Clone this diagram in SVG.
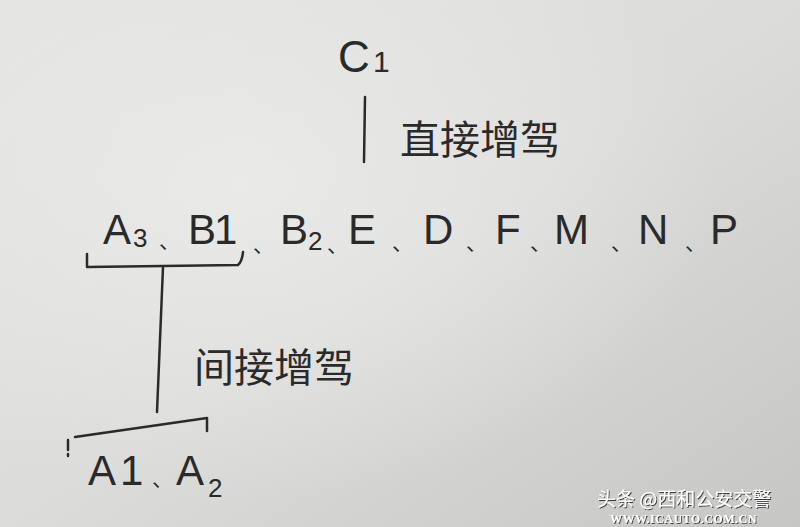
<svg xmlns="http://www.w3.org/2000/svg" width="800" height="527" viewBox="0 0 800 527">
  <defs>
    <linearGradient id="bg" x1="0" y1="0" x2="1" y2="1">
      <stop offset="0" stop-color="#e4e4e2"/>
      <stop offset="0.5" stop-color="#dcdcda"/>
      <stop offset="1" stop-color="#c6c6c4"/>
    </linearGradient>
    <radialGradient id="glow" cx="0.3" cy="0.35" r="0.6">
      <stop offset="0" stop-color="#ececea" stop-opacity="0.8"/>
      <stop offset="1" stop-color="#ececea" stop-opacity="0"/>
    </radialGradient>
    <filter id="shadow" x="-10%" y="-30%" width="120%" height="160%">
      <feDropShadow dx="1" dy="1" stdDeviation="0.6" flood-color="#000" flood-opacity="0.7"/>
    </filter>
  </defs>
  <style>
    .ink { fill: #2a2a2a; font-family: "Liberation Sans", "Noto Sans CJK SC", sans-serif; }
    .big { font-size: 42px; }
    .sub { font-size: 26px; }
    .dun { fill: #2a2a2a; font-family: "Noto Sans CJK SC", sans-serif; font-size: 21px; }
    .cjk { fill: #2a2a2a; font-family: "Noto Sans CJK SC", sans-serif; font-size: 40px; }
    .line { stroke: #2a2a2a; stroke-width: 2.5; fill: none; stroke-linecap: round; stroke-linejoin: round; }
    .wm { fill: #ffffff; font-family: "Noto Sans CJK SC", sans-serif; font-size: 19px; }
    .wm2 { fill: #ffffff; font-family: "Liberation Serif", serif; font-size: 12px; font-weight: bold; letter-spacing: 0.5px; }
  </style>
  <rect width="800" height="527" fill="url(#bg)"/>
  <rect width="800" height="527" fill="url(#glow)"/>

  <g id="node-c1">
    <text class="ink" x="338" y="72" font-size="44">C</text>
    <text class="ink" x="373" y="72" font-size="30">1</text>
  </g>

  <g id="label-direct">
    <text class="cjk" x="400" y="154">直接增驾</text>
  </g>

  <g id="node-row">
    <text class="ink big" x="103" y="244">A</text><text class="ink sub" x="133" y="247">3</text>
    <text class="dun" x="159" y="248">、</text>
    <text class="ink big" x="188" y="244">B</text><text class="ink big" x="214" y="244">1</text>
    <text class="dun" x="253" y="252">、</text>
    <text class="ink big" x="280" y="244">B</text><text class="ink sub" x="308" y="250">2</text>
    <text class="dun" x="327" y="252">、</text>
    <text class="ink big" x="348" y="244">E</text>
    <text class="dun" x="392" y="250">、</text>
    <text class="ink big" x="423" y="244">D</text>
    <text class="dun" x="466" y="250">、</text>
    <text class="ink big" x="495" y="244">F</text>
    <text class="dun" x="530" y="250">、</text>
    <text class="ink big" x="554" y="244">M</text>
    <text class="dun" x="611" y="250">、</text>
    <text class="ink big" x="638" y="244">N</text>
    <text class="dun" x="685" y="250">、</text>
    <text class="ink big" x="710" y="244">P</text>
  </g>

  <g id="label-indirect">
    <text class="cjk" x="194" y="382">间接增驾</text>
  </g>

  <g id="node-a1a2">
    <text class="ink big" x="88" y="485">A</text><text class="ink big" x="120" y="485">1</text>
    <text class="dun" x="152" y="486">、</text>
    <text class="ink big" x="176" y="485">A</text><text class="ink sub" x="208" y="497">2</text>
  </g>

  <g id="connectors">
    <path class="line" d="M365 97 L364 162"/>
    <path class="line" d="M87 254 L87 267 L238 265 Q242 262 243 252"/>
    <path class="line" d="M163 267 L157 412"/>
    <path class="line" d="M75 437 L207 418 L207 431"/>
    <path class="line" d="M68 440 L68 450 M68 454 L68 456"/>
  </g>

  <g id="watermark">
    <text class="wm" x="597" y="506" filter="url(#shadow)">头条 @西和公安交警</text>
    <text class="wm2" x="610" y="523" filter="url(#shadow)">WWW.ICAUTO.COM.CN</text>
  </g>
</svg>
